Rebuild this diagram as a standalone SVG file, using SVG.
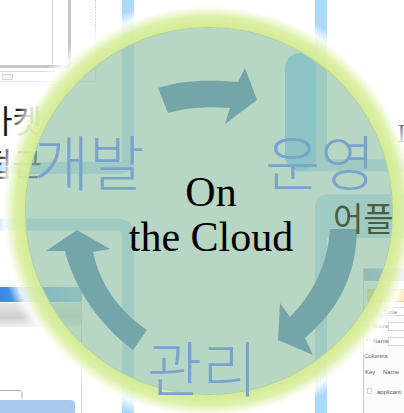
<svg xmlns="http://www.w3.org/2000/svg" width="404" height="413" viewBox="0 0 404 413">
<defs>
  <radialGradient id="glow" cx="209" cy="211" r="216" gradientUnits="userSpaceOnUse">
    <stop offset="0" stop-color="#ffffff" stop-opacity="0"/>
    <stop offset="0.846" stop-color="#ffffff" stop-opacity="0"/>
    <stop offset="0.849" stop-color="#d2ea92" stop-opacity="1"/>
    <stop offset="0.90" stop-color="#dcf0a6" stop-opacity="0.95"/>
    <stop offset="0.95" stop-color="#ffffff" stop-opacity="0.85"/>
    <stop offset="1" stop-color="#ffffff" stop-opacity="0"/>
  </radialGradient>
  <linearGradient id="bluebar" x1="0" x2="1" y1="0" y2="0">
    <stop offset="0" stop-color="#3a88e2"/>
    <stop offset="1" stop-color="#7cb6ea"/>
  </linearGradient>
  <linearGradient id="graybar" x1="0" x2="0" y1="0" y2="1">
    <stop offset="0" stop-color="#e6e6e6"/>
    <stop offset="0.6" stop-color="#cfcfcf"/>
    <stop offset="1" stop-color="#f2f2f2"/>
  </linearGradient>
  <linearGradient id="titlebar" x1="0" x2="1" y1="0" y2="0">
    <stop offset="0" stop-color="#7aa6d6"/>
    <stop offset="1" stop-color="#a4c4e6"/>
  </linearGradient>
  <linearGradient id="yellowbar" x1="0" x2="1" y1="0" y2="0">
    <stop offset="0" stop-color="#f2dc6a"/>
    <stop offset="1" stop-color="#f8eab0"/>
  </linearGradient>
</defs>
<style>
  .frame{fill:none;stroke:#aadafa;stroke-width:12}
  .ui{fill:none;stroke:#d2d2d2;stroke-width:1}
  .tiny{font-family:"Liberation Sans",Arial,sans-serif;font-size:6px;fill:#555555}
  .box{fill:#ffffff;stroke:#b8b8b8;stroke-width:0.6}
  .ko{font-family:"Noto Sans CJK KR",sans-serif;font-size:60px;font-weight:300;fill:#78a4cc}
  .frag{font-family:"Noto Sans CJK KR",sans-serif;font-size:32px;fill:#161616}
  .title{font-family:"Liberation Serif","Times New Roman",serif;font-size:42px;fill:#000000;text-anchor:middle}
  .arrow{fill:#73a5a9}
</style>
<rect width="404" height="413" fill="#ffffff"/>

<g id="background">
  <!-- top-left window -->
  <line class="ui" x1="52.5" y1="0" x2="52.5" y2="65"/>
  <rect x="68" y="0" width="3" height="68" fill="#c4c4c4"/>
  <rect x="0" y="65" width="71" height="3" fill="#c8c8c8"/>
  <line x1="0" y1="71.5" x2="55" y2="71.5" stroke="#dadada"/>
  <rect x="2.5" y="74.5" width="10" height="5" fill="#f4f4f4" stroke="#bdbdbd" stroke-width="0.6"/>
  <line x1="0" y1="81.5" x2="96" y2="81.5" stroke="#e2e2e2"/>
  <line x1="95.5" y1="0" x2="95.5" y2="81" stroke="#d6d6d6" stroke-dasharray="2 1"/>
  <!-- bottom-left window -->
  <line x1="0" y1="285.5" x2="82" y2="285.5" stroke="#e4eaf0"/>
  <rect x="0" y="287" width="82" height="15" fill="url(#bluebar)"/>
  <line x1="24" y1="302.5" x2="82" y2="302.5" stroke="#f2f7ff"/>
  <rect x="0" y="303" width="82" height="24" fill="url(#graybar)"/>
  <line x1="81.5" y1="300" x2="81.5" y2="413" stroke="#d0d0d0"/>
  <path d="M0,390.5 H20 Q22,390.5 22,393 V399" fill="none" stroke="#9a9a9a" stroke-width="0.8"/>
  <path d="M0,400 H70 Q75,400 75,405 V413 H0 Z" fill="#aac8ec"/>
  <!-- right window -->
  <rect x="363.5" y="268.5" width="45" height="150" fill="#fbfbfb" stroke="#c8c8c8"/>
  <rect x="364" y="269" width="41" height="12" fill="url(#titlebar)"/>
  <rect x="367.5" y="289.5" width="40" height="12" fill="url(#yellowbar)" stroke="#c8b860" stroke-width="0.6"/>
  <rect class="box" x="366.5" y="307.5" width="10" height="8"/>
  <rect class="box" x="379.5" y="307.5" width="28" height="8"/>
  <text class="tiny" x="383" y="314">Table</text>
  <circle cx="367" cy="326" r="1.4" fill="#e0a030"/>
  <text class="tiny" x="373" y="328">Name</text>
  <rect class="box" x="388.5" y="322.5" width="20" height="8"/>
  <circle cx="367" cy="340" r="1.4" fill="#5a7ac0"/>
  <text class="tiny" x="373" y="343">Name</text>
  <rect class="box" x="388.5" y="337.5" width="20" height="8"/>
  <text class="tiny" x="364" y="358">Columns</text>
  <text class="tiny" x="365" y="374">Key</text>
  <text class="tiny" x="383" y="374">Name</text>
  <rect class="box" x="367.5" y="388.5" width="4" height="5"/>
  <text class="tiny" x="377" y="394">applicant</text>
  <!-- light blue frame bars -->
  <path class="frame" d="M128,0 V160 Q128,168 120,168 H0" stroke-width="13"/>
  <path class="frame" d="M0,224.5 H116 Q128,224.5 128,236 V413"/>
  <path class="frame" d="M321,0 V165 M296,165.5 H404" stroke-width="13"/>
  <path d="M315,413 V208 Q315,194 329,194 H404 V238 H327 V413 Z" fill="#aadafa"/>
  <rect x="285" y="53" width="31" height="118" rx="15" fill="#6cc3ff"/>
  <!-- text fragments -->
  <text class="frag" x="-17" y="133">마켓</text>
  <text class="frag" x="-17" y="176">접근</text>
  <text x="397" y="142" font-family="Liberation Serif,serif" font-size="26" fill="#111111">I</text>
</g>

<g id="ring">
  <circle cx="209" cy="211" r="216" fill="url(#glow)"/>
  <circle cx="209" cy="211" r="184" fill="#9ac4ab" fill-opacity="0.7"/>
</g>

<g id="connectors">
  <path class="arrow" d="M158,88 C178,81 205,79 238,82 L245,68 L257,100 L225,124 L230,108 C205,106 186,108 168,113 Z"/>
  <path class="arrow" d="M330,229 L357,229 C356,275 340,308 305,338 L313,355 L278,340 L280,303 L290,317 C312,295 328,265 330,229 Z"/>
  <path class="arrow" d="M147,330 L133,350 C100,325 75,290 65,251 L46,251 L77,230 L110,249 L93,252 C100,285 120,312 147,330 Z"/>
</g>

<g id="node-center">
  <text class="title" x="211" y="206">On</text>
  <text class="title" x="211" y="251">the Cloud</text>
</g>
<g id="node-dev"><text class="ko" x="34" y="186">개발</text></g>
<g id="node-ops"><text class="ko" x="265" y="186">운영</text></g>
<g id="node-mgmt"><text class="ko" x="147" y="392">관리</text></g>
<g id="node-app"><text x="333" y="231" font-family="Noto Sans CJK KR,sans-serif" font-size="33" fill="#4a5e45">어플</text></g>
</svg>
